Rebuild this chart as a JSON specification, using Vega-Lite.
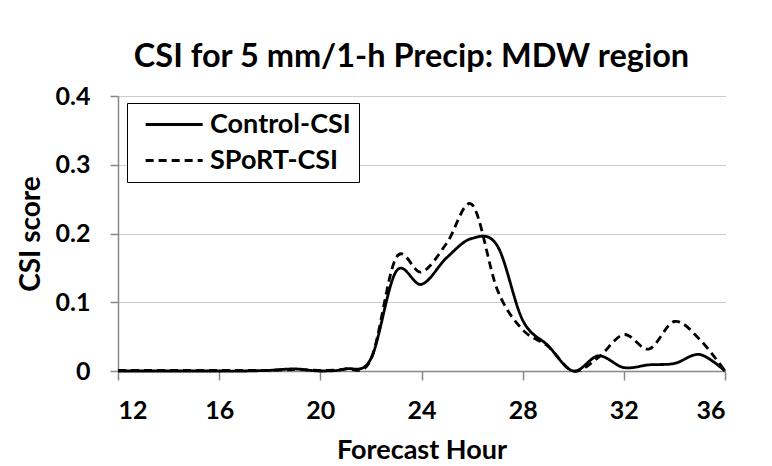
{
  "$schema": "https://vega.github.io/schema/vega-lite/v6.json",
  "autosize": {"type": "none"},
  "width": 607,
  "height": 275,
  "padding": {"left": 118, "top": 96, "right": 47, "bottom": 95},
  "background": "white",
  "title": {
    "text": "CSI for 5 mm/1-h Precip: MDW region",
    "font": "Lato",
    "fontSize": 32.5,
    "fontWeight": "bold",
    "color": "black",
    "anchor": "middle",
    "dx": -10,
    "offset": 11
  },
  "data": {
    "values": [
      {"hour": 12, "series": "Control-CSI", "csi": 0},
      {"hour": 13, "series": "Control-CSI", "csi": 0},
      {"hour": 14, "series": "Control-CSI", "csi": 0},
      {"hour": 15, "series": "Control-CSI", "csi": 0},
      {"hour": 16, "series": "Control-CSI", "csi": 0},
      {"hour": 17, "series": "Control-CSI", "csi": 0},
      {"hour": 18, "series": "Control-CSI", "csi": 0.001},
      {"hour": 19, "series": "Control-CSI", "csi": 0.003},
      {"hour": 20, "series": "Control-CSI", "csi": 0},
      {"hour": 21, "series": "Control-CSI", "csi": 0.003},
      {"hour": 22, "series": "Control-CSI", "csi": 0.018},
      {"hour": 23, "series": "Control-CSI", "csi": 0.145},
      {"hour": 24, "series": "Control-CSI", "csi": 0.126},
      {"hour": 25, "series": "Control-CSI", "csi": 0.165},
      {"hour": 26, "series": "Control-CSI", "csi": 0.193},
      {"hour": 27, "series": "Control-CSI", "csi": 0.182},
      {"hour": 28, "series": "Control-CSI", "csi": 0.074},
      {"hour": 29, "series": "Control-CSI", "csi": 0.037},
      {"hour": 30, "series": "Control-CSI", "csi": 0},
      {"hour": 31, "series": "Control-CSI", "csi": 0.022},
      {"hour": 32, "series": "Control-CSI", "csi": 0.005},
      {"hour": 33, "series": "Control-CSI", "csi": 0.009},
      {"hour": 34, "series": "Control-CSI", "csi": 0.011},
      {"hour": 35, "series": "Control-CSI", "csi": 0.024},
      {"hour": 36, "series": "Control-CSI", "csi": 0},
      {"hour": 12, "series": "SPoRT-CSI", "csi": 0.001},
      {"hour": 13, "series": "SPoRT-CSI", "csi": 0.001},
      {"hour": 14, "series": "SPoRT-CSI", "csi": 0.001},
      {"hour": 15, "series": "SPoRT-CSI", "csi": 0.001},
      {"hour": 16, "series": "SPoRT-CSI", "csi": 0.001},
      {"hour": 17, "series": "SPoRT-CSI", "csi": 0.001},
      {"hour": 18, "series": "SPoRT-CSI", "csi": 0.001},
      {"hour": 19, "series": "SPoRT-CSI", "csi": 0.002},
      {"hour": 20, "series": "SPoRT-CSI", "csi": 0.001},
      {"hour": 21, "series": "SPoRT-CSI", "csi": 0.003},
      {"hour": 22, "series": "SPoRT-CSI", "csi": 0.017},
      {"hour": 23, "series": "SPoRT-CSI", "csi": 0.165},
      {"hour": 24, "series": "SPoRT-CSI", "csi": 0.144},
      {"hour": 25, "series": "SPoRT-CSI", "csi": 0.186},
      {"hour": 26, "series": "SPoRT-CSI", "csi": 0.242},
      {"hour": 27, "series": "SPoRT-CSI", "csi": 0.118},
      {"hour": 28, "series": "SPoRT-CSI", "csi": 0.06},
      {"hour": 29, "series": "SPoRT-CSI", "csi": 0.036},
      {"hour": 30, "series": "SPoRT-CSI", "csi": 0},
      {"hour": 31, "series": "SPoRT-CSI", "csi": 0.02},
      {"hour": 32, "series": "SPoRT-CSI", "csi": 0.053},
      {"hour": 33, "series": "SPoRT-CSI", "csi": 0.032},
      {"hour": 34, "series": "SPoRT-CSI", "csi": 0.072},
      {"hour": 35, "series": "SPoRT-CSI", "csi": 0.046},
      {"hour": 36, "series": "SPoRT-CSI", "csi": 0}
    ]
  },
  "mark": {"type": "line", "interpolate": "cardinal", "strokeWidth": 2.8, "color": "black", "clip": false},
  "encoding": {
    "x": {
      "field": "hour",
      "type": "quantitative",
      "scale": {"domain": [12, 36], "nice": false, "zero": false},
      "axis": {
        "values": [12, 16, 20, 24, 28, 32, 36],
        "title": "Forecast Hour",
        "grid": false,
        "domainColor": "#888888",
        "domainWidth": 1.5,
        "tickColor": "#888888",
        "tickSize": 9,
        "tickWidth": 1.5,
        "labelPadding": 18,
        "labelFont": "Lato",
        "labelFontSize": 25,
        "labelFontWeight": "bold",
        "labelColor": "black",
        "titleFont": "Lato",
        "titleFontSize": 27,
        "titleFontWeight": "bold",
        "titleColor": "black",
        "titlePadding": 14
      }
    },
    "y": {
      "field": "csi",
      "type": "quantitative",
      "scale": {"domain": [0, 0.4], "nice": false},
      "axis": {
        "values": [0, 0.1, 0.2, 0.3, 0.4],
        "format": "~g",
        "title": "CSI score",
        "grid": true,
        "gridColor": "#999999",
        "gridDash": [1, 1],
        "gridWidth": 1,
        "domainColor": "#888888",
        "domainWidth": 1.5,
        "tickColor": "#888888",
        "tickSize": 8,
        "tickWidth": 1.5,
        "labelPadding": 20,
        "labelFont": "Lato",
        "labelFontSize": 25,
        "labelFontWeight": "bold",
        "labelColor": "black",
        "titleFont": "Lato",
        "titleFontSize": 28,
        "titleFontWeight": "bold",
        "titleColor": "black",
        "titlePadding": 10
      }
    },
    "strokeDash": {
      "field": "series",
      "type": "nominal",
      "scale": {"domain": ["Control-CSI", "SPoRT-CSI"], "range": [[1, 0], [8, 5]]},
      "legend": {
        "title": null,
        "orient": "none",
        "legendX": 9,
        "legendY": 7,
        "symbolType": "M-0.3,0H5.7",
        "symbolSize": 361,
        "symbolStrokeWidth": 2.8,
        "symbolStrokeColor": "black",
        "labelFont": "Lato",
        "labelFontSize": 27,
        "labelFontWeight": "bold",
        "labelColor": "black",
        "labelOffset": 48,
        "rowPadding": 8,
        "strokeColor": "black",
        "padding": 8,
        "fillColor": "white"
      }
    }
  },
  "config": {"view": {"stroke": null}}
}
